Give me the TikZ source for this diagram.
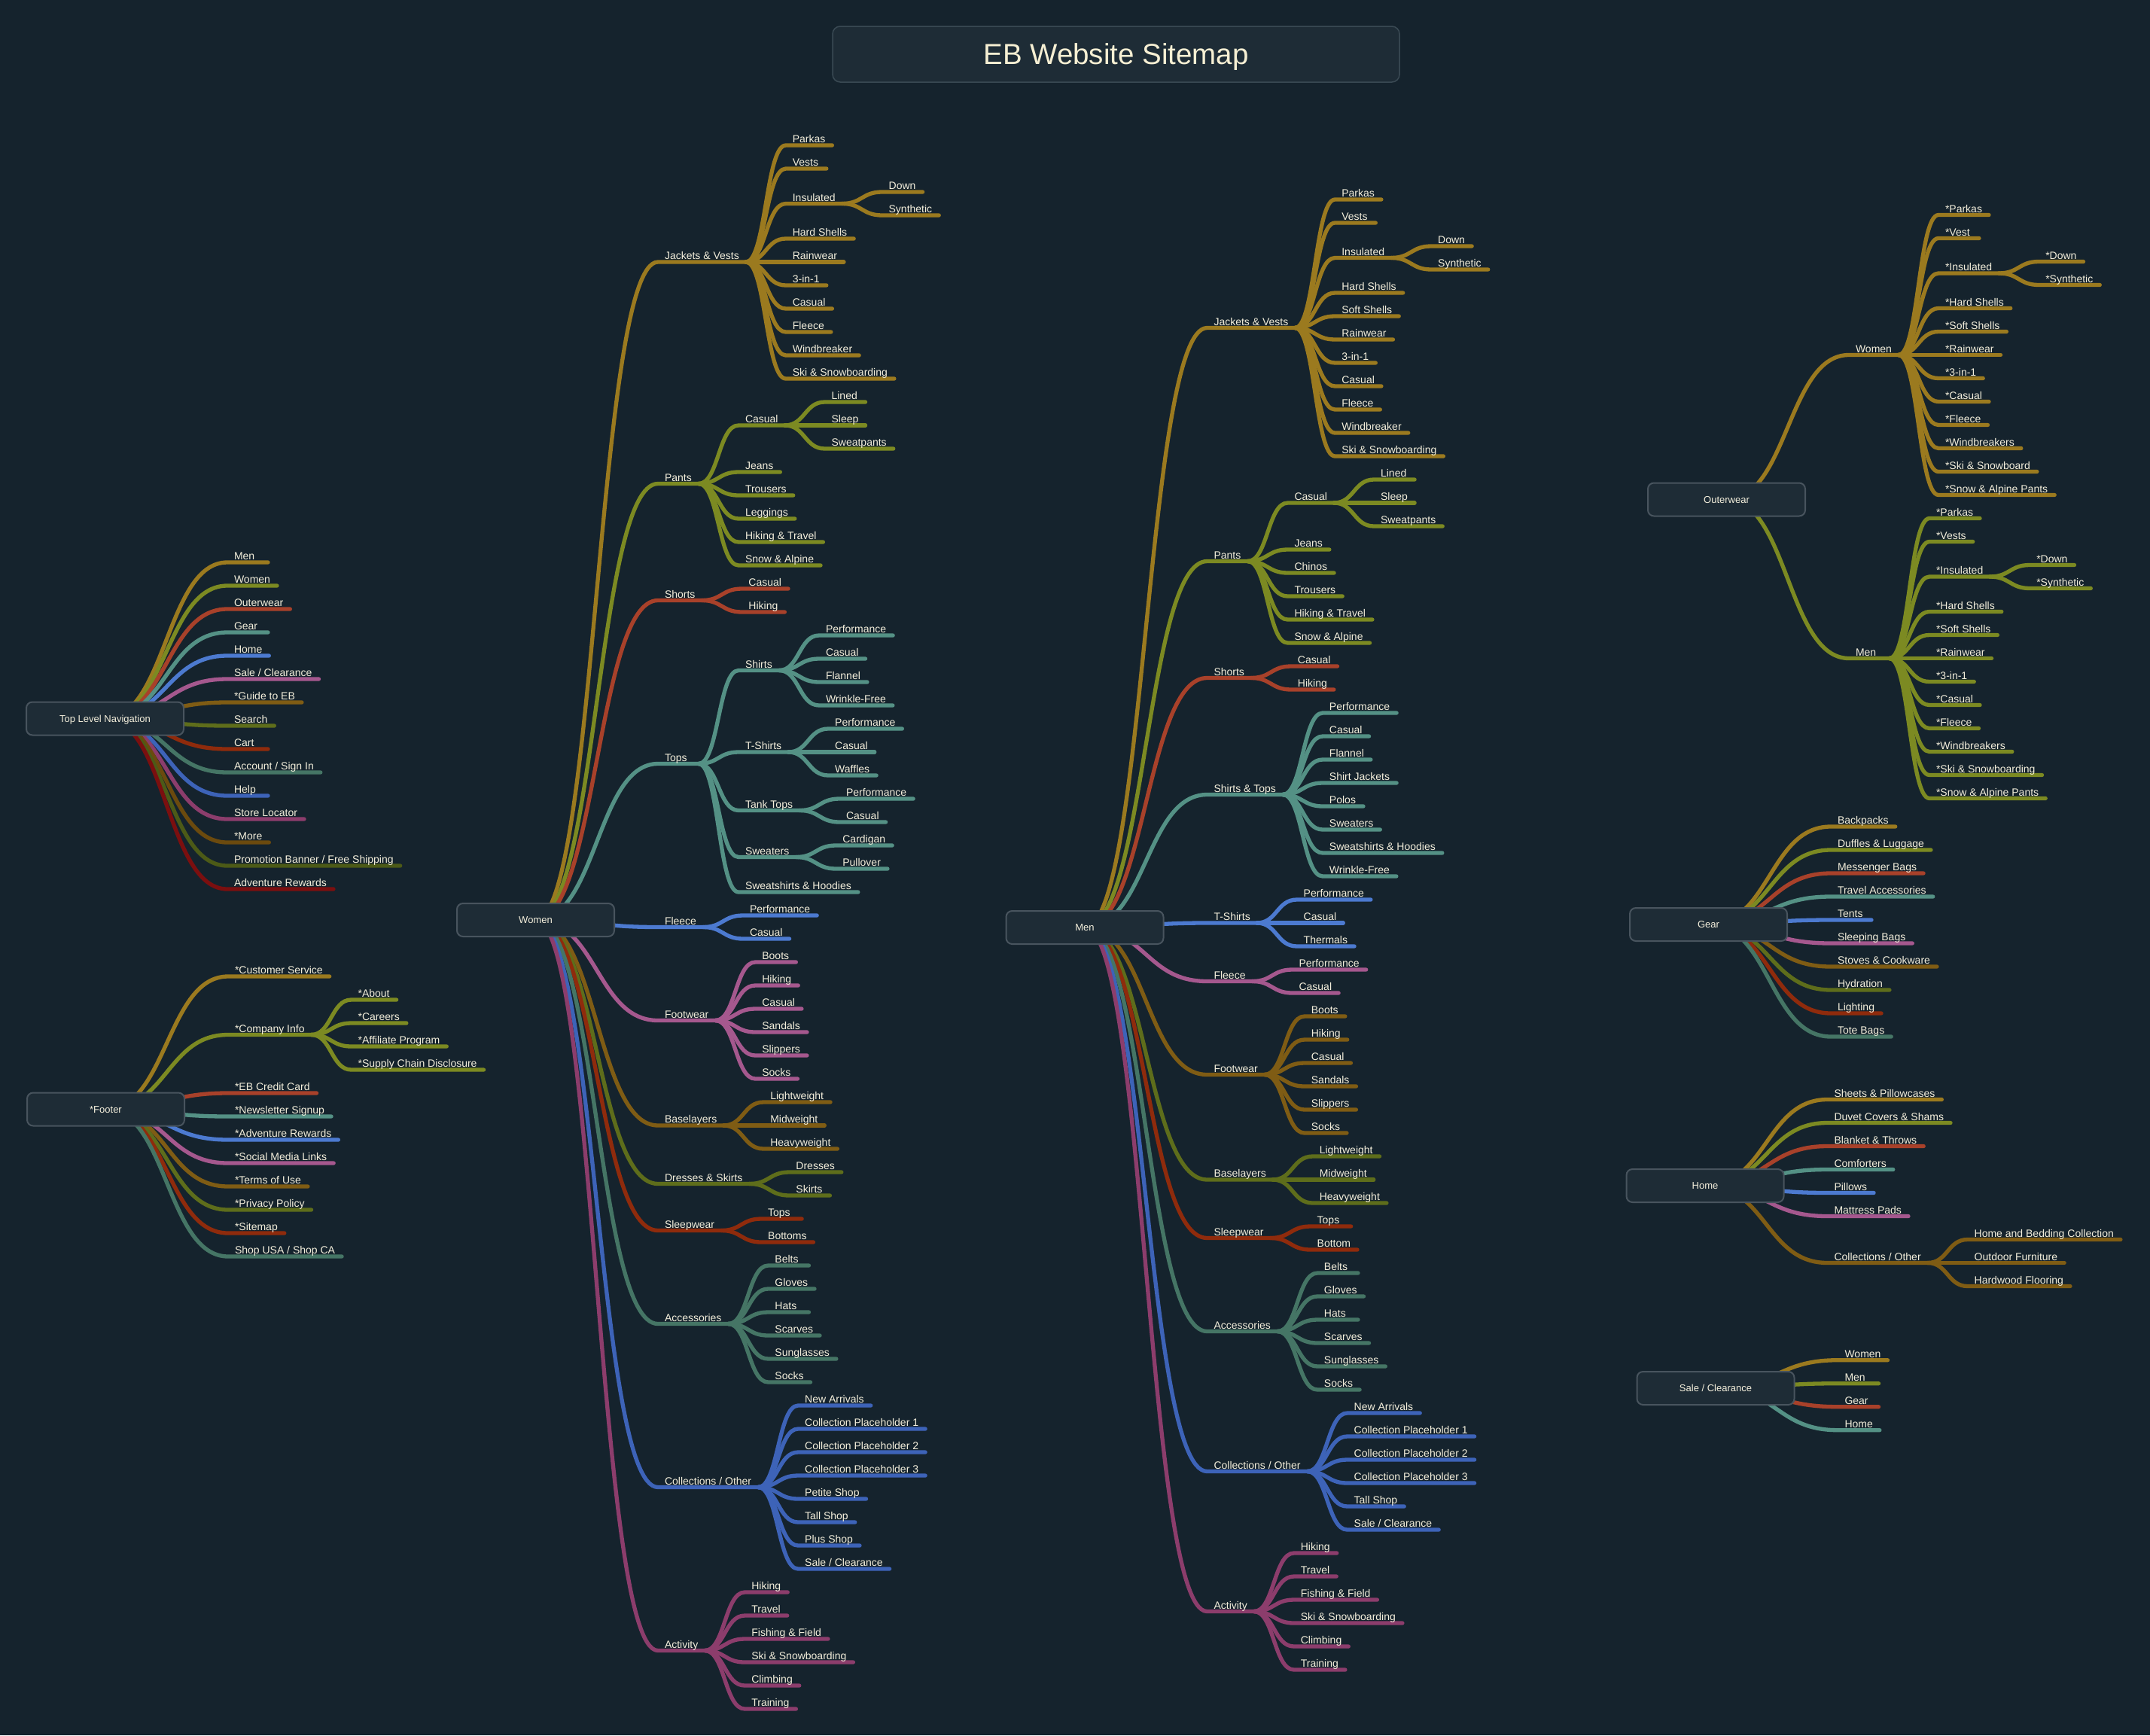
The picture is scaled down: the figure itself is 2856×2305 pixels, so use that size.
\documentclass[tikz,border=0pt]{standalone}
\usepackage{fontspec}
\setmainfont{Liberation Sans}
\usetikzlibrary{calc}
\definecolor{bg}{HTML}{15232D}
\definecolor{boxf}{HTML}{1E2C36}
\definecolor{boxd}{HTML}{48545E}
\definecolor{titd}{HTML}{3A4A54}
\definecolor{txt}{HTML}{F4EFDC}
\definecolor{tittxt}{HTML}{F6EFD3}
\definecolor{c1}{HTML}{9B7A1F}
\definecolor{c2}{HTML}{7C8A22}
\definecolor{c3}{HTML}{A8412A}
\definecolor{c4}{HTML}{549185}
\definecolor{c5}{HTML}{4C7AD0}
\definecolor{c6}{HTML}{A5588E}
\definecolor{c7}{HTML}{7F5C14}
\definecolor{c8}{HTML}{5E6D1B}
\definecolor{c9}{HTML}{8F2B0C}
\definecolor{c10}{HTML}{457565}
\definecolor{c11}{HTML}{3D63B8}
\definecolor{c12}{HTML}{8C3D6C}
\definecolor{c13}{HTML}{6B4A0E}
\definecolor{c14}{HTML}{4C5A17}
\definecolor{c15}{HTML}{7B0F0F}
\pgfdeclarelayer{bgl}
\pgfdeclarelayer{lines}
\pgfsetlayers{bgl,lines,main}
\newcommand\lb[1]{\sbox0{#1}\ifdim\wd0<36pt\makebox[36pt][l]{#1}\else\usebox0\fi}
\def\base{0}
\newcommand\rbox[4]{\node[rootbox] (#1) at (#2,#3) {#4};}
% first level: name, box, colour, slot, text
\newcommand\ka[5]{%
  \path (#2.east) ++(57pt,0pt) coordinate (t-#1);
  \node[lbl] (#1) at (t-#1 |- 0,\base+31*#4) {\lb{#5}};
  \begin{pgfonlayer}{lines}
  \path ($(#2.center)!0.5!(#1.south west)$) coordinate (m-#1);
  \draw[br,#3] (#2.center) .. controls (m-#1 |- #2.center) and (m-#1 |- #1.south west) .. (#1.south west) -- (#1.south east);
  \end{pgfonlayer}}
% deeper levels: name, parent, colour, slot, text
\newcommand\kb[5]{%
  \path (#2.south east) ++(53pt,0pt) coordinate (t-#1);
  \node[lbl] (#1) at (t-#1 |- 0,\base+31*#4) {\lb{#5}};
  \begin{pgfonlayer}{lines}
  \path ($(#2.south east)!0.5!(#1.south west)$) coordinate (m-#1);
  \draw[br,#3] (#2.south east) .. controls (m-#1 |- #2.south east) and (m-#1 |- #1.south west) .. (#1.south west) -- (#1.south east);
  \end{pgfonlayer}}
\begin{document}
\begin{tikzpicture}[x=1pt,y=-1pt,
  lbl/.style={anchor=south west,inner xsep=9pt,inner ysep=3.5pt,outer sep=0pt,text depth=0pt,
    font=\fontsize{14pt}{16pt}\selectfont,text=txt},
  br/.style={line width=5.3pt,line cap=round,line join=round},
  rootbox/.style={draw=boxd,fill=boxf,line width=2pt,rounded corners=8pt,minimum width=209pt,
    minimum height=44pt,inner sep=0pt,text height=9.3pt,text depth=0pt,
    font=\fontsize{13pt}{15pt}\selectfont,text=txt},
  titlebox/.style={draw=titd,fill=boxf,line width=1.5pt,rounded corners=10pt,minimum width=753pt,
    minimum height=74pt,inner sep=0pt,text height=27.4pt,text depth=0pt,
    font=\fontsize{38.5pt}{44pt}\selectfont,text=tittxt}]
\begin{pgfonlayer}{bgl}
\fill[bg] (0,0) rectangle (2856,2305);
\end{pgfonlayer}
\useasboundingbox (0,0) rectangle (2856,2305);

\node[titlebox] (title) at (1482.5,72) {EB Website Sitemap};

% ---------------- Top Level Navigation
\def\base{747}
\rbox{tln}{139.5}{954.5}{Top Level Navigation}
\ka{t1}{tln}{c1}{0}{Men}
\ka{t2}{tln}{c2}{1}{Women}
\ka{t3}{tln}{c3}{2}{Outerwear}
\ka{t4}{tln}{c4}{3}{Gear}
\ka{t5}{tln}{c5}{4}{Home}
\ka{t6}{tln}{c6}{5}{Sale / Clearance}
\ka{t7}{tln}{c7}{6}{*Guide to EB}
\ka{t8}{tln}{c8}{7}{Search}
\ka{t9}{tln}{c9}{8}{Cart}
\ka{t10}{tln}{c10}{9}{Account / Sign In}
\ka{t11}{tln}{c11}{10}{Help}
\ka{t12}{tln}{c12}{11}{Store Locator}
\ka{t13}{tln}{c13}{12}{*More}
\ka{t14}{tln}{c14}{13}{Promotion Banner / Free Shipping}
\ka{t15}{tln}{c15}{14}{Adventure Rewards}

% ---------------- Footer
\def\base{1297}
\rbox{ftr}{140.5}{1473.5}{*Footer}
\ka{f1}{ftr}{c1}{0}{*Customer Service}
\ka{f2}{ftr}{c2}{2.5}{*Company Info}
\kb{f2a}{f2}{c2}{1}{*About}
\kb{f2b}{f2}{c2}{2}{*Careers}
\kb{f2c}{f2}{c2}{3}{*Affiliate Program}
\kb{f2d}{f2}{c2}{4}{*Supply Chain Disclosure}
\ka{f3}{ftr}{c3}{5}{*EB Credit Card}
\ka{f4}{ftr}{c4}{6}{*Newsletter Signup}
\ka{f5}{ftr}{c5}{7}{*Adventure Rewards}
\ka{f6}{ftr}{c6}{8}{*Social Media Links}
\ka{f7}{ftr}{c7}{9}{*Terms of Use}
\ka{f8}{ftr}{c8}{10}{*Privacy Policy}
\ka{f9}{ftr}{c9}{11}{*Sitemap}
\ka{f10}{ftr}{c10}{12}{Shop USA / Shop CA}

% ---------------- Women
\def\base{193}
\rbox{wom}{711.5}{1222}{Women}
\ka{w1}{wom}{c1}{5}{Jackets \& Vests}
\kb{w1a}{w1}{c1}{0}{Parkas}
\kb{w1b}{w1}{c1}{1}{Vests}
\kb{w1c}{w1}{c1}{2.5}{Insulated}
\kb{w1c1}{w1c}{c1}{2}{Down}
\kb{w1c2}{w1c}{c1}{3}{Synthetic}
\kb{w1d}{w1}{c1}{4}{Hard Shells}
\kb{w1e}{w1}{c1}{5}{Rainwear}
\kb{w1f}{w1}{c1}{6}{3-in-1}
\kb{w1g}{w1}{c1}{7}{Casual}
\kb{w1h}{w1}{c1}{8}{Fleece}
\kb{w1i}{w1}{c1}{9}{Windbreaker}
\kb{w1j}{w1}{c1}{10}{Ski \& Snowboarding}
\ka{w2}{wom}{c2}{14.5}{Pants}
\kb{w2a}{w2}{c2}{12}{Casual}
\kb{w2a1}{w2a}{c2}{11}{Lined}
\kb{w2a2}{w2a}{c2}{12}{Sleep}
\kb{w2a3}{w2a}{c2}{13}{Sweatpants}
\kb{w2b}{w2}{c2}{14}{Jeans}
\kb{w2c}{w2}{c2}{15}{Trousers}
\kb{w2d}{w2}{c2}{16}{Leggings}
\kb{w2e}{w2}{c2}{17}{Hiking \& Travel}
\kb{w2f}{w2}{c2}{18}{Snow \& Alpine}
\ka{w3}{wom}{c3}{19.5}{Shorts}
\kb{w3a}{w3}{c3}{19}{Casual}
\kb{w3b}{w3}{c3}{20}{Hiking}
\ka{w4}{wom}{c4}{26.5}{Tops}
\kb{w4a}{w4}{c4}{22.5}{Shirts}
\kb{w4a1}{w4a}{c4}{21}{Performance}
\kb{w4a2}{w4a}{c4}{22}{Casual}
\kb{w4a3}{w4a}{c4}{23}{Flannel}
\kb{w4a4}{w4a}{c4}{24}{Wrinkle-Free}
\kb{w4b}{w4}{c4}{26}{T-Shirts}
\kb{w4b1}{w4b}{c4}{25}{Performance}
\kb{w4b2}{w4b}{c4}{26}{Casual}
\kb{w4b3}{w4b}{c4}{27}{Waffles}
\kb{w4c}{w4}{c4}{28.5}{Tank Tops}
\kb{w4c1}{w4c}{c4}{28}{Performance}
\kb{w4c2}{w4c}{c4}{29}{Casual}
\kb{w4d}{w4}{c4}{30.5}{Sweaters}
\kb{w4d1}{w4d}{c4}{30}{Cardigan}
\kb{w4d2}{w4d}{c4}{31}{Pullover}
\kb{w4e}{w4}{c4}{32}{Sweatshirts \& Hoodies}
\ka{w5}{wom}{c5}{33.5}{Fleece}
\kb{w5a}{w5}{c5}{33}{Performance}
\kb{w5b}{w5}{c5}{34}{Casual}
\ka{w6}{wom}{c6}{37.5}{Footwear}
\kb{w6a}{w6}{c6}{35}{Boots}
\kb{w6b}{w6}{c6}{36}{Hiking}
\kb{w6c}{w6}{c6}{37}{Casual}
\kb{w6d}{w6}{c6}{38}{Sandals}
\kb{w6e}{w6}{c6}{39}{Slippers}
\kb{w6f}{w6}{c6}{40}{Socks}
\ka{w7}{wom}{c7}{42}{Baselayers}
\kb{w7a}{w7}{c7}{41}{Lightweight}
\kb{w7b}{w7}{c7}{42}{Midweight}
\kb{w7c}{w7}{c7}{43}{Heavyweight}
\ka{w8}{wom}{c8}{44.5}{Dresses \& Skirts}
\kb{w8a}{w8}{c8}{44}{Dresses}
\kb{w8b}{w8}{c8}{45}{Skirts}
\ka{w9}{wom}{c9}{46.5}{Sleepwear}
\kb{w9a}{w9}{c9}{46}{Tops}
\kb{w9b}{w9}{c9}{47}{Bottoms}
\ka{w10}{wom}{c10}{50.5}{Accessories}
\kb{w10a}{w10}{c10}{48}{Belts}
\kb{w10b}{w10}{c10}{49}{Gloves}
\kb{w10c}{w10}{c10}{50}{Hats}
\kb{w10d}{w10}{c10}{51}{Scarves}
\kb{w10e}{w10}{c10}{52}{Sunglasses}
\kb{w10f}{w10}{c10}{53}{Socks}
\ka{w11}{wom}{c11}{57.5}{Collections / Other}
\kb{w11a}{w11}{c11}{54}{New Arrivals}
\kb{w11b}{w11}{c11}{55}{Collection Placeholder 1}
\kb{w11c}{w11}{c11}{56}{Collection Placeholder 2}
\kb{w11d}{w11}{c11}{57}{Collection Placeholder 3}
\kb{w11e}{w11}{c11}{58}{Petite Shop}
\kb{w11f}{w11}{c11}{59}{Tall Shop}
\kb{w11g}{w11}{c11}{60}{Plus Shop}
\kb{w11h}{w11}{c11}{61}{Sale / Clearance}
\ka{w12}{wom}{c12}{64.5}{Activity}
\kb{w12a}{w12}{c12}{62}{Hiking}
\kb{w12b}{w12}{c12}{63}{Travel}
\kb{w12c}{w12}{c12}{64}{Fishing \& Field}
\kb{w12d}{w12}{c12}{65}{Ski \& Snowboarding}
\kb{w12e}{w12}{c12}{66}{Climbing}
\kb{w12f}{w12}{c12}{67}{Training}

% ---------------- Men
\def\base{265}
\rbox{men}{1441}{1232}{Men}
\ka{m1}{men}{c1}{5.5}{Jackets \& Vests}
\kb{m1a}{m1}{c1}{0}{Parkas}
\kb{m1b}{m1}{c1}{1}{Vests}
\kb{m1c}{m1}{c1}{2.5}{Insulated}
\kb{m1c1}{m1c}{c1}{2}{Down}
\kb{m1c2}{m1c}{c1}{3}{Synthetic}
\kb{m1d}{m1}{c1}{4}{Hard Shells}
\kb{m1e}{m1}{c1}{5}{Soft Shells}
\kb{m1f}{m1}{c1}{6}{Rainwear}
\kb{m1g}{m1}{c1}{7}{3-in-1}
\kb{m1h}{m1}{c1}{8}{Casual}
\kb{m1i}{m1}{c1}{9}{Fleece}
\kb{m1j}{m1}{c1}{10}{Windbreaker}
\kb{m1k}{m1}{c1}{11}{Ski \& Snowboarding}
\ka{m2}{men}{c2}{15.5}{Pants}
\kb{m2a}{m2}{c2}{13}{Casual}
\kb{m2a1}{m2a}{c2}{12}{Lined}
\kb{m2a2}{m2a}{c2}{13}{Sleep}
\kb{m2a3}{m2a}{c2}{14}{Sweatpants}
\kb{m2b}{m2}{c2}{15}{Jeans}
\kb{m2c}{m2}{c2}{16}{Chinos}
\kb{m2d}{m2}{c2}{17}{Trousers}
\kb{m2e}{m2}{c2}{18}{Hiking \& Travel}
\kb{m2f}{m2}{c2}{19}{Snow \& Alpine}
\ka{m3}{men}{c3}{20.5}{Shorts}
\kb{m3a}{m3}{c3}{20}{Casual}
\kb{m3b}{m3}{c3}{21}{Hiking}
\ka{m4}{men}{c4}{25.5}{Shirts \& Tops}
\kb{m4a}{m4}{c4}{22}{Performance}
\kb{m4b}{m4}{c4}{23}{Casual}
\kb{m4c}{m4}{c4}{24}{Flannel}
\kb{m4d}{m4}{c4}{25}{Shirt Jackets}
\kb{m4e}{m4}{c4}{26}{Polos}
\kb{m4f}{m4}{c4}{27}{Sweaters}
\kb{m4g}{m4}{c4}{28}{Sweatshirts \& Hoodies}
\kb{m4h}{m4}{c4}{29}{Wrinkle-Free}
\ka{m5}{men}{c5}{31}{T-Shirts}
\kb{m5a}{m5}{c5}{30}{Performance}
\kb{m5b}{m5}{c5}{31}{Casual}
\kb{m5c}{m5}{c5}{32}{Thermals}
\ka{m6}{men}{c6}{33.5}{Fleece}
\kb{m6a}{m6}{c6}{33}{Performance}
\kb{m6b}{m6}{c6}{34}{Casual}
\ka{m7}{men}{c7}{37.5}{Footwear}
\kb{m7a}{m7}{c7}{35}{Boots}
\kb{m7b}{m7}{c7}{36}{Hiking}
\kb{m7c}{m7}{c7}{37}{Casual}
\kb{m7d}{m7}{c7}{38}{Sandals}
\kb{m7e}{m7}{c7}{39}{Slippers}
\kb{m7f}{m7}{c7}{40}{Socks}
\ka{m8}{men}{c8}{42}{Baselayers}
\kb{m8a}{m8}{c8}{41}{Lightweight}
\kb{m8b}{m8}{c8}{42}{Midweight}
\kb{m8c}{m8}{c8}{43}{Heavyweight}
\ka{m9}{men}{c9}{44.5}{Sleepwear}
\kb{m9a}{m9}{c9}{44}{Tops}
\kb{m9b}{m9}{c9}{45}{Bottom}
\ka{m10}{men}{c10}{48.5}{Accessories}
\kb{m10a}{m10}{c10}{46}{Belts}
\kb{m10b}{m10}{c10}{47}{Gloves}
\kb{m10c}{m10}{c10}{48}{Hats}
\kb{m10d}{m10}{c10}{49}{Scarves}
\kb{m10e}{m10}{c10}{50}{Sunglasses}
\kb{m10f}{m10}{c10}{51}{Socks}
\ka{m11}{men}{c11}{54.5}{Collections / Other}
\kb{m11a}{m11}{c11}{52}{New Arrivals}
\kb{m11b}{m11}{c11}{53}{Collection Placeholder 1}
\kb{m11c}{m11}{c11}{54}{Collection Placeholder 2}
\kb{m11d}{m11}{c11}{55}{Collection Placeholder 3}
\kb{m11e}{m11}{c11}{56}{Tall Shop}
\kb{m11f}{m11}{c11}{57}{Sale / Clearance}
\ka{m12}{men}{c12}{60.5}{Activity}
\kb{m12a}{m12}{c12}{58}{Hiking}
\kb{m12b}{m12}{c12}{59}{Travel}
\kb{m12c}{m12}{c12}{60}{Fishing \& Field}
\kb{m12d}{m12}{c12}{61}{Ski \& Snowboarding}
\kb{m12e}{m12}{c12}{62}{Climbing}
\kb{m12f}{m12}{c12}{63}{Training}

% ---------------- Outerwear
\def\base{285.5}
\rbox{otw}{2293.5}{663.5}{Outerwear}
\ka{o1}{otw}{c1}{6}{Women}
\kb{o1a}{o1}{c1}{0}{*Parkas}
\kb{o1b}{o1}{c1}{1}{*Vest}
\kb{o1c}{o1}{c1}{2.5}{*Insulated}
\kb{o1c1}{o1c}{c1}{2}{*Down}
\kb{o1c2}{o1c}{c1}{3}{*Synthetic}
\kb{o1d}{o1}{c1}{4}{*Hard Shells}
\kb{o1e}{o1}{c1}{5}{*Soft Shells}
\kb{o1f}{o1}{c1}{6}{*Rainwear}
\kb{o1g}{o1}{c1}{7}{*3-in-1}
\kb{o1h}{o1}{c1}{8}{*Casual}
\kb{o1i}{o1}{c1}{9}{*Fleece}
\kb{o1j}{o1}{c1}{10}{*Windbreakers}
\kb{o1k}{o1}{c1}{11}{*Ski \& Snowboard}
\kb{o1l}{o1}{c1}{12}{*Snow \& Alpine Pants}
\ka{o2}{otw}{c2}{19}{Men}
\kb{o2a}{o2}{c2}{13}{*Parkas}
\kb{o2b}{o2}{c2}{14}{*Vests}
\kb{o2c}{o2}{c2}{15.5}{*Insulated}
\kb{o2c1}{o2c}{c2}{15}{*Down}
\kb{o2c2}{o2c}{c2}{16}{*Synthetic}
\kb{o2d}{o2}{c2}{17}{*Hard Shells}
\kb{o2e}{o2}{c2}{18}{*Soft Shells}
\kb{o2f}{o2}{c2}{19}{*Rainwear}
\kb{o2g}{o2}{c2}{20}{*3-in-1}
\kb{o2h}{o2}{c2}{21}{*Casual}
\kb{o2i}{o2}{c2}{22}{*Fleece}
\kb{o2j}{o2}{c2}{23}{*Windbreakers}
\kb{o2k}{o2}{c2}{24}{*Ski \& Snowboarding}
\kb{o2l}{o2}{c2}{25}{*Snow \& Alpine Pants}

% ---------------- Gear
\def\base{1098}
\rbox{gear}{2269.5}{1228}{Gear}
\ka{g1}{gear}{c1}{0}{Backpacks}
\ka{g2}{gear}{c2}{1}{Duffles \& Luggage}
\ka{g3}{gear}{c3}{2}{Messenger Bags}
\ka{g4}{gear}{c4}{3}{Travel Accessories}
\ka{g5}{gear}{c5}{4}{Tents}
\ka{g6}{gear}{c6}{5}{Sleeping Bags}
\ka{g7}{gear}{c7}{6}{Stoves \& Cookware}
\ka{g8}{gear}{c8}{7}{Hydration}
\ka{g9}{gear}{c9}{8}{Lighting}
\ka{g10}{gear}{c10}{9}{Tote Bags}

% ---------------- Home
\def\base{1460.5}
\rbox{home}{2265}{1575}{Home}
\ka{h1}{home}{c1}{0}{Sheets \& Pillowcases}
\ka{h2}{home}{c2}{1}{Duvet Covers \& Shams}
\ka{h3}{home}{c3}{2}{Blanket \& Throws}
\ka{h4}{home}{c4}{3}{Comforters}
\ka{h5}{home}{c5}{4}{Pillows}
\ka{h6}{home}{c6}{5}{Mattress Pads}
\ka{h7}{home}{c7}{7}{Collections / Other}
\kb{h7a}{h7}{c7}{6}{Home and Bedding Collection}
\kb{h7b}{h7}{c7}{7}{Outdoor Furniture}
\kb{h7c}{h7}{c7}{8}{Hardwood Flooring}

% ---------------- Sale / Clearance
\def\base{1806.7}
\rbox{sale}{2279}{1844}{Sale / Clearance}
\ka{s1}{sale}{c1}{0}{Women}
\ka{s2}{sale}{c2}{1}{Men}
\ka{s3}{sale}{c3}{2}{Gear}
\ka{s4}{sale}{c4}{3}{Home}
\end{tikzpicture}
\end{document}
